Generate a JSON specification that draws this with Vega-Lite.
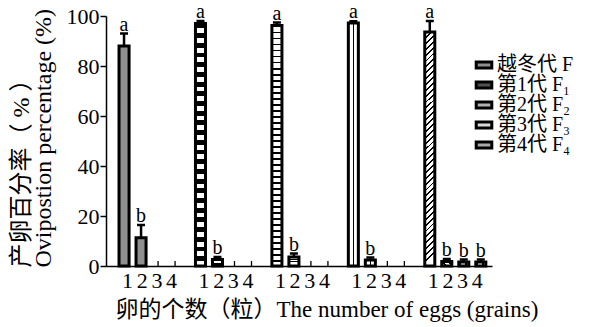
{
  "$schema": "https://vega.github.io/schema/vega-lite/v6.json",
  "width": 386,
  "height": 250,
  "autosize": {"type": "none"},
  "padding": {"left": 106, "top": 16, "right": 108, "bottom": 61},
  "background": "white",
  "config": {
    "font": "Liberation Serif, Noto Sans CJK SC",
    "view": {"stroke": null},
    "axis": {
      "grid": false,
      "domainColor": "black",
      "domainWidth": 1.5,
      "tickColor": "black",
      "tickWidth": 1.5,
      "labelColor": "black",
      "titleColor": "black",
      "labelFont": "Liberation Serif, Noto Sans CJK SC",
      "titleFont": "Liberation Serif, Noto Sans CJK SC",
      "titleFontWeight": "normal"
    }
  },
  "data": {
    "values": [
      {"gen": "越冬代 F", "eggs": 1, "pct": 88.0, "hi": 93.0, "letter": "a"},
      {"gen": "越冬代 F", "eggs": 2, "pct": 11.3, "hi": 16.4, "letter": "b"},
      {"gen": "越冬代 F", "eggs": 3, "pct": 0, "hi": 0, "letter": ""},
      {"gen": "越冬代 F", "eggs": 4, "pct": 0, "hi": 0, "letter": ""},
      {"gen": "第1代 F₁", "eggs": 1, "pct": 97.0, "hi": 98.0, "letter": "a"},
      {"gen": "第1代 F₁", "eggs": 2, "pct": 2.6, "hi": 3.6, "letter": "b"},
      {"gen": "第1代 F₁", "eggs": 3, "pct": 0, "hi": 0, "letter": ""},
      {"gen": "第1代 F₁", "eggs": 4, "pct": 0, "hi": 0, "letter": ""},
      {"gen": "第2代 F₂", "eggs": 1, "pct": 96.2, "hi": 97.4, "letter": "a"},
      {"gen": "第2代 F₂", "eggs": 2, "pct": 3.6, "hi": 5.0, "letter": "b"},
      {"gen": "第2代 F₂", "eggs": 3, "pct": 0, "hi": 0, "letter": ""},
      {"gen": "第2代 F₂", "eggs": 4, "pct": 0, "hi": 0, "letter": ""},
      {"gen": "第3代 F₃", "eggs": 1, "pct": 97.2, "hi": 97.9, "letter": "a"},
      {"gen": "第3代 F₃", "eggs": 2, "pct": 2.4, "hi": 3.4, "letter": "b"},
      {"gen": "第3代 F₃", "eggs": 3, "pct": 0, "hi": 0, "letter": ""},
      {"gen": "第3代 F₃", "eggs": 4, "pct": 0, "hi": 0, "letter": ""},
      {"gen": "第4代 F₄", "eggs": 1, "pct": 93.6, "hi": 98.0, "letter": "a"},
      {"gen": "第4代 F₄", "eggs": 2, "pct": 1.8, "hi": 2.8, "letter": "b"},
      {"gen": "第4代 F₄", "eggs": 3, "pct": 1.6, "hi": 2.6, "letter": "b"},
      {"gen": "第4代 F₄", "eggs": 4, "pct": 1.6, "hi": 2.6, "letter": "b"}
    ]
  },
  "encoding": {
    "x": {
      "field": "gen",
      "type": "nominal",
      "sort": ["越冬代 F", "第1代 F₁", "第2代 F₂", "第3代 F₃", "第4代 F₄"],
      "scale": {"paddingInner": 0.11, "paddingOuter": 0.08, "align": 0.78},
      "axis": {
        "title": "卵的个数（粒）The number of eggs (grains)",
        "titleFontSize": 23,
        "titleX": 9,
        "titleY": 50,
        "titleAlign": "left",
        "titleAnchor": "start",
        "titleBaseline": "alphabetic",
        "labelExpr": "'1\u20062\u20063\u20064'",
        "labelAngle": 0,
        "labelFontSize": 22,
        "labelPadding": 4,
        "ticks": false
      }
    },
    "xOffset": {
      "field": "eggs",
      "type": "ordinal",
      "scale": {"paddingInner": 0.41, "paddingOuter": 0.205}
    },
    "y": {
      "field": "pct",
      "type": "quantitative",
      "scale": {"domain": [0, 100]},
      "axis": {
        "title": ["产卵百分率（ % ）", "Ovipostion percentage (%)"],
        "values": [0, 20, 40, 60, 80, 100],
        "tickSize": 6,
        "labelFontSize": 22,
        "labelPadding": 1,
        "titleFontSize": 24,
        "titleAngle": -90,
        "titleX": -97,
        "titleY": 251,
        "titleAlign": "left",
        "titleAnchor": "start",
        "titleBaseline": "top",
        "titleLineHeight": 22
      }
    }
  },
  "layer": [
    {
      "mark": {"type": "rule", "color": "black", "strokeWidth": 1.3},
      "encoding": {
        "y": {"datum": 0, "type": "quantitative"},
        "y2": {"datum": 2}
      }
    },
    {
      "transform": [{"filter": "datum.pct > 0"}],
      "mark": {"type": "rule", "color": "black", "strokeWidth": 2.5},
      "encoding": {
        "y2": {"field": "hi"}
      }
    },
    {
      "transform": [{"filter": "datum.pct > 0"}],
      "mark": {"type": "tick", "color": "black", "thickness": 2.5, "size": 8, "orient": "horizontal", "opacity": 1},
      "encoding": {
        "y": {"field": "hi", "type": "quantitative"}
      }
    },
    {
      "transform": [{"filter": "datum.pct > 0"}],
      "mark": {"type": "bar", "stroke": "black", "strokeWidth": 3, "opacity": 1},
      "encoding": {
        "fill": {
          "field": "gen",
          "type": "nominal",
          "sort": ["越冬代 F", "第1代 F₁", "第2代 F₂", "第3代 F₃", "第4代 F₄"],
          "scale": {"range": ["#8f8f8f", "#505050", "#b0b0b0", "#d8d8d8", "#a8a8a8"]},
          "condition": [
            {
              "test": "datum.gen === '第1代 F₁'",
              "value": {"gradient": "linear", "x1": 0, "y1": 0, "x2": 0, "y2": 1, "stops": [
                {"offset": 0, "color": "black"}, {"offset": 0.02, "color": "black"}, {"offset": 0.02, "color": "white"}, {"offset": 0.04, "color": "white"},
                {"offset": 0.04, "color": "black"}, {"offset": 0.06, "color": "black"}, {"offset": 0.06, "color": "white"}, {"offset": 0.08, "color": "white"},
                {"offset": 0.08, "color": "black"}, {"offset": 0.10, "color": "black"}, {"offset": 0.10, "color": "white"}, {"offset": 0.12, "color": "white"},
                {"offset": 0.12, "color": "black"}, {"offset": 0.14, "color": "black"}, {"offset": 0.14, "color": "white"}, {"offset": 0.16, "color": "white"},
                {"offset": 0.16, "color": "black"}, {"offset": 0.18, "color": "black"}, {"offset": 0.18, "color": "white"}, {"offset": 0.20, "color": "white"},
                {"offset": 0.20, "color": "black"}, {"offset": 0.22, "color": "black"}, {"offset": 0.22, "color": "white"}, {"offset": 0.24, "color": "white"},
                {"offset": 0.24, "color": "black"}, {"offset": 0.26, "color": "black"}, {"offset": 0.26, "color": "white"}, {"offset": 0.28, "color": "white"},
                {"offset": 0.28, "color": "black"}, {"offset": 0.30, "color": "black"}, {"offset": 0.30, "color": "white"}, {"offset": 0.32, "color": "white"},
                {"offset": 0.32, "color": "black"}, {"offset": 0.34, "color": "black"}, {"offset": 0.34, "color": "white"}, {"offset": 0.36, "color": "white"},
                {"offset": 0.36, "color": "black"}, {"offset": 0.38, "color": "black"}, {"offset": 0.38, "color": "white"}, {"offset": 0.40, "color": "white"},
                {"offset": 0.40, "color": "black"}, {"offset": 0.42, "color": "black"}, {"offset": 0.42, "color": "white"}, {"offset": 0.44, "color": "white"},
                {"offset": 0.44, "color": "black"}, {"offset": 0.46, "color": "black"}, {"offset": 0.46, "color": "white"}, {"offset": 0.48, "color": "white"},
                {"offset": 0.48, "color": "black"}, {"offset": 0.50, "color": "black"}, {"offset": 0.50, "color": "white"}, {"offset": 0.52, "color": "white"},
                {"offset": 0.52, "color": "black"}, {"offset": 0.54, "color": "black"}, {"offset": 0.54, "color": "white"}, {"offset": 0.56, "color": "white"},
                {"offset": 0.56, "color": "black"}, {"offset": 0.58, "color": "black"}, {"offset": 0.58, "color": "white"}, {"offset": 0.60, "color": "white"},
                {"offset": 0.60, "color": "black"}, {"offset": 0.62, "color": "black"}, {"offset": 0.62, "color": "white"}, {"offset": 0.64, "color": "white"},
                {"offset": 0.64, "color": "black"}, {"offset": 0.66, "color": "black"}, {"offset": 0.66, "color": "white"}, {"offset": 0.68, "color": "white"},
                {"offset": 0.68, "color": "black"}, {"offset": 0.70, "color": "black"}, {"offset": 0.70, "color": "white"}, {"offset": 0.72, "color": "white"},
                {"offset": 0.72, "color": "black"}, {"offset": 0.74, "color": "black"}, {"offset": 0.74, "color": "white"}, {"offset": 0.76, "color": "white"},
                {"offset": 0.76, "color": "black"}, {"offset": 0.78, "color": "black"}, {"offset": 0.78, "color": "white"}, {"offset": 0.80, "color": "white"},
                {"offset": 0.80, "color": "black"}, {"offset": 0.82, "color": "black"}, {"offset": 0.82, "color": "white"}, {"offset": 0.84, "color": "white"},
                {"offset": 0.84, "color": "black"}, {"offset": 0.86, "color": "black"}, {"offset": 0.86, "color": "white"}, {"offset": 0.88, "color": "white"},
                {"offset": 0.88, "color": "black"}, {"offset": 0.90, "color": "black"}, {"offset": 0.90, "color": "white"}, {"offset": 0.92, "color": "white"},
                {"offset": 0.92, "color": "black"}, {"offset": 0.94, "color": "black"}, {"offset": 0.94, "color": "white"}, {"offset": 0.96, "color": "white"},
                {"offset": 0.96, "color": "black"}, {"offset": 0.98, "color": "black"}, {"offset": 0.98, "color": "white"}, {"offset": 1, "color": "white"}
              ]}
            },
            {
              "test": "datum.gen === '第2代 F₂'",
              "value": {"gradient": "linear", "x1": 0, "y1": 0, "x2": 0, "y2": 1, "stops": [
                {"offset": 0, "color": "black"}, {"offset": 0.008, "color": "black"}, {"offset": 0.008, "color": "white"}, {"offset": 0.025, "color": "white"},
                {"offset": 0.025, "color": "black"}, {"offset": 0.033, "color": "black"}, {"offset": 0.033, "color": "white"}, {"offset": 0.05, "color": "white"},
                {"offset": 0.05, "color": "black"}, {"offset": 0.058, "color": "black"}, {"offset": 0.058, "color": "white"}, {"offset": 0.075, "color": "white"},
                {"offset": 0.075, "color": "black"}, {"offset": 0.083, "color": "black"}, {"offset": 0.083, "color": "white"}, {"offset": 0.1, "color": "white"},
                {"offset": 0.1, "color": "black"}, {"offset": 0.108, "color": "black"}, {"offset": 0.108, "color": "white"}, {"offset": 0.125, "color": "white"},
                {"offset": 0.125, "color": "black"}, {"offset": 0.133, "color": "black"}, {"offset": 0.133, "color": "white"}, {"offset": 0.15, "color": "white"},
                {"offset": 0.15, "color": "black"}, {"offset": 0.158, "color": "black"}, {"offset": 0.158, "color": "white"}, {"offset": 0.175, "color": "white"},
                {"offset": 0.175, "color": "black"}, {"offset": 0.183, "color": "black"}, {"offset": 0.183, "color": "white"}, {"offset": 0.2, "color": "white"},
                {"offset": 0.2, "color": "black"}, {"offset": 0.208, "color": "black"}, {"offset": 0.208, "color": "white"}, {"offset": 0.225, "color": "white"},
                {"offset": 0.225, "color": "black"}, {"offset": 0.233, "color": "black"}, {"offset": 0.233, "color": "white"}, {"offset": 0.25, "color": "white"},
                {"offset": 0.25, "color": "black"}, {"offset": 0.258, "color": "black"}, {"offset": 0.258, "color": "white"}, {"offset": 0.275, "color": "white"},
                {"offset": 0.275, "color": "black"}, {"offset": 0.283, "color": "black"}, {"offset": 0.283, "color": "white"}, {"offset": 0.3, "color": "white"},
                {"offset": 0.3, "color": "black"}, {"offset": 0.308, "color": "black"}, {"offset": 0.308, "color": "white"}, {"offset": 0.325, "color": "white"},
                {"offset": 0.325, "color": "black"}, {"offset": 0.333, "color": "black"}, {"offset": 0.333, "color": "white"}, {"offset": 0.35, "color": "white"},
                {"offset": 0.35, "color": "black"}, {"offset": 0.358, "color": "black"}, {"offset": 0.358, "color": "white"}, {"offset": 0.375, "color": "white"},
                {"offset": 0.375, "color": "black"}, {"offset": 0.383, "color": "black"}, {"offset": 0.383, "color": "white"}, {"offset": 0.4, "color": "white"},
                {"offset": 0.4, "color": "black"}, {"offset": 0.408, "color": "black"}, {"offset": 0.408, "color": "white"}, {"offset": 0.425, "color": "white"},
                {"offset": 0.425, "color": "black"}, {"offset": 0.433, "color": "black"}, {"offset": 0.433, "color": "white"}, {"offset": 0.45, "color": "white"},
                {"offset": 0.45, "color": "black"}, {"offset": 0.458, "color": "black"}, {"offset": 0.458, "color": "white"}, {"offset": 0.475, "color": "white"},
                {"offset": 0.475, "color": "black"}, {"offset": 0.483, "color": "black"}, {"offset": 0.483, "color": "white"}, {"offset": 0.5, "color": "white"},
                {"offset": 0.5, "color": "black"}, {"offset": 0.508, "color": "black"}, {"offset": 0.508, "color": "white"}, {"offset": 0.525, "color": "white"},
                {"offset": 0.525, "color": "black"}, {"offset": 0.533, "color": "black"}, {"offset": 0.533, "color": "white"}, {"offset": 0.55, "color": "white"},
                {"offset": 0.55, "color": "black"}, {"offset": 0.558, "color": "black"}, {"offset": 0.558, "color": "white"}, {"offset": 0.575, "color": "white"},
                {"offset": 0.575, "color": "black"}, {"offset": 0.583, "color": "black"}, {"offset": 0.583, "color": "white"}, {"offset": 0.6, "color": "white"},
                {"offset": 0.6, "color": "black"}, {"offset": 0.608, "color": "black"}, {"offset": 0.608, "color": "white"}, {"offset": 0.625, "color": "white"},
                {"offset": 0.625, "color": "black"}, {"offset": 0.633, "color": "black"}, {"offset": 0.633, "color": "white"}, {"offset": 0.65, "color": "white"},
                {"offset": 0.65, "color": "black"}, {"offset": 0.658, "color": "black"}, {"offset": 0.658, "color": "white"}, {"offset": 0.675, "color": "white"},
                {"offset": 0.675, "color": "black"}, {"offset": 0.683, "color": "black"}, {"offset": 0.683, "color": "white"}, {"offset": 0.7, "color": "white"},
                {"offset": 0.7, "color": "black"}, {"offset": 0.708, "color": "black"}, {"offset": 0.708, "color": "white"}, {"offset": 0.725, "color": "white"},
                {"offset": 0.725, "color": "black"}, {"offset": 0.733, "color": "black"}, {"offset": 0.733, "color": "white"}, {"offset": 0.75, "color": "white"},
                {"offset": 0.75, "color": "black"}, {"offset": 0.758, "color": "black"}, {"offset": 0.758, "color": "white"}, {"offset": 0.775, "color": "white"},
                {"offset": 0.775, "color": "black"}, {"offset": 0.783, "color": "black"}, {"offset": 0.783, "color": "white"}, {"offset": 0.8, "color": "white"},
                {"offset": 0.8, "color": "black"}, {"offset": 0.808, "color": "black"}, {"offset": 0.808, "color": "white"}, {"offset": 0.825, "color": "white"},
                {"offset": 0.825, "color": "black"}, {"offset": 0.833, "color": "black"}, {"offset": 0.833, "color": "white"}, {"offset": 0.85, "color": "white"},
                {"offset": 0.85, "color": "black"}, {"offset": 0.858, "color": "black"}, {"offset": 0.858, "color": "white"}, {"offset": 0.875, "color": "white"},
                {"offset": 0.875, "color": "black"}, {"offset": 0.883, "color": "black"}, {"offset": 0.883, "color": "white"}, {"offset": 0.9, "color": "white"},
                {"offset": 0.9, "color": "black"}, {"offset": 0.908, "color": "black"}, {"offset": 0.908, "color": "white"}, {"offset": 0.925, "color": "white"},
                {"offset": 0.925, "color": "black"}, {"offset": 0.933, "color": "black"}, {"offset": 0.933, "color": "white"}, {"offset": 0.95, "color": "white"},
                {"offset": 0.95, "color": "black"}, {"offset": 0.958, "color": "black"}, {"offset": 0.958, "color": "white"}, {"offset": 0.975, "color": "white"},
                {"offset": 0.975, "color": "black"}, {"offset": 0.983, "color": "black"}, {"offset": 0.983, "color": "white"}, {"offset": 1, "color": "white"}
              ]}
            },
            {
              "test": "datum.gen === '第3代 F₃'",
              "value": {"gradient": "linear", "x1": 0, "y1": 0, "x2": 1, "y2": 0, "stops": [
                {"offset": 0, "color": "white"}, {"offset": 0.42, "color": "white"},
                {"offset": 0.42, "color": "black"}, {"offset": 0.58, "color": "black"},
                {"offset": 0.58, "color": "white"}, {"offset": 1, "color": "white"}
              ]}
            },
            {
              "test": "datum.gen === '第4代 F₄'",
              "value": {"gradient": "linear", "x1": 0, "y1": 0, "x2": 0.0426, "y2": 1, "stops": [
                {"offset": 0, "color": "black"}, {"offset": 0.008, "color": "black"}, {"offset": 0.008, "color": "white"}, {"offset": 0.025, "color": "white"},
                {"offset": 0.025, "color": "black"}, {"offset": 0.033, "color": "black"}, {"offset": 0.033, "color": "white"}, {"offset": 0.05, "color": "white"},
                {"offset": 0.05, "color": "black"}, {"offset": 0.058, "color": "black"}, {"offset": 0.058, "color": "white"}, {"offset": 0.075, "color": "white"},
                {"offset": 0.075, "color": "black"}, {"offset": 0.083, "color": "black"}, {"offset": 0.083, "color": "white"}, {"offset": 0.1, "color": "white"},
                {"offset": 0.1, "color": "black"}, {"offset": 0.108, "color": "black"}, {"offset": 0.108, "color": "white"}, {"offset": 0.125, "color": "white"},
                {"offset": 0.125, "color": "black"}, {"offset": 0.133, "color": "black"}, {"offset": 0.133, "color": "white"}, {"offset": 0.15, "color": "white"},
                {"offset": 0.15, "color": "black"}, {"offset": 0.158, "color": "black"}, {"offset": 0.158, "color": "white"}, {"offset": 0.175, "color": "white"},
                {"offset": 0.175, "color": "black"}, {"offset": 0.183, "color": "black"}, {"offset": 0.183, "color": "white"}, {"offset": 0.2, "color": "white"},
                {"offset": 0.2, "color": "black"}, {"offset": 0.208, "color": "black"}, {"offset": 0.208, "color": "white"}, {"offset": 0.225, "color": "white"},
                {"offset": 0.225, "color": "black"}, {"offset": 0.233, "color": "black"}, {"offset": 0.233, "color": "white"}, {"offset": 0.25, "color": "white"},
                {"offset": 0.25, "color": "black"}, {"offset": 0.258, "color": "black"}, {"offset": 0.258, "color": "white"}, {"offset": 0.275, "color": "white"},
                {"offset": 0.275, "color": "black"}, {"offset": 0.283, "color": "black"}, {"offset": 0.283, "color": "white"}, {"offset": 0.3, "color": "white"},
                {"offset": 0.3, "color": "black"}, {"offset": 0.308, "color": "black"}, {"offset": 0.308, "color": "white"}, {"offset": 0.325, "color": "white"},
                {"offset": 0.325, "color": "black"}, {"offset": 0.333, "color": "black"}, {"offset": 0.333, "color": "white"}, {"offset": 0.35, "color": "white"},
                {"offset": 0.35, "color": "black"}, {"offset": 0.358, "color": "black"}, {"offset": 0.358, "color": "white"}, {"offset": 0.375, "color": "white"},
                {"offset": 0.375, "color": "black"}, {"offset": 0.383, "color": "black"}, {"offset": 0.383, "color": "white"}, {"offset": 0.4, "color": "white"},
                {"offset": 0.4, "color": "black"}, {"offset": 0.408, "color": "black"}, {"offset": 0.408, "color": "white"}, {"offset": 0.425, "color": "white"},
                {"offset": 0.425, "color": "black"}, {"offset": 0.433, "color": "black"}, {"offset": 0.433, "color": "white"}, {"offset": 0.45, "color": "white"},
                {"offset": 0.45, "color": "black"}, {"offset": 0.458, "color": "black"}, {"offset": 0.458, "color": "white"}, {"offset": 0.475, "color": "white"},
                {"offset": 0.475, "color": "black"}, {"offset": 0.483, "color": "black"}, {"offset": 0.483, "color": "white"}, {"offset": 0.5, "color": "white"},
                {"offset": 0.5, "color": "black"}, {"offset": 0.508, "color": "black"}, {"offset": 0.508, "color": "white"}, {"offset": 0.525, "color": "white"},
                {"offset": 0.525, "color": "black"}, {"offset": 0.533, "color": "black"}, {"offset": 0.533, "color": "white"}, {"offset": 0.55, "color": "white"},
                {"offset": 0.55, "color": "black"}, {"offset": 0.558, "color": "black"}, {"offset": 0.558, "color": "white"}, {"offset": 0.575, "color": "white"},
                {"offset": 0.575, "color": "black"}, {"offset": 0.583, "color": "black"}, {"offset": 0.583, "color": "white"}, {"offset": 0.6, "color": "white"},
                {"offset": 0.6, "color": "black"}, {"offset": 0.608, "color": "black"}, {"offset": 0.608, "color": "white"}, {"offset": 0.625, "color": "white"},
                {"offset": 0.625, "color": "black"}, {"offset": 0.633, "color": "black"}, {"offset": 0.633, "color": "white"}, {"offset": 0.65, "color": "white"},
                {"offset": 0.65, "color": "black"}, {"offset": 0.658, "color": "black"}, {"offset": 0.658, "color": "white"}, {"offset": 0.675, "color": "white"},
                {"offset": 0.675, "color": "black"}, {"offset": 0.683, "color": "black"}, {"offset": 0.683, "color": "white"}, {"offset": 0.7, "color": "white"},
                {"offset": 0.7, "color": "black"}, {"offset": 0.708, "color": "black"}, {"offset": 0.708, "color": "white"}, {"offset": 0.725, "color": "white"},
                {"offset": 0.725, "color": "black"}, {"offset": 0.733, "color": "black"}, {"offset": 0.733, "color": "white"}, {"offset": 0.75, "color": "white"},
                {"offset": 0.75, "color": "black"}, {"offset": 0.758, "color": "black"}, {"offset": 0.758, "color": "white"}, {"offset": 0.775, "color": "white"},
                {"offset": 0.775, "color": "black"}, {"offset": 0.783, "color": "black"}, {"offset": 0.783, "color": "white"}, {"offset": 0.8, "color": "white"},
                {"offset": 0.8, "color": "black"}, {"offset": 0.808, "color": "black"}, {"offset": 0.808, "color": "white"}, {"offset": 0.825, "color": "white"},
                {"offset": 0.825, "color": "black"}, {"offset": 0.833, "color": "black"}, {"offset": 0.833, "color": "white"}, {"offset": 0.85, "color": "white"},
                {"offset": 0.85, "color": "black"}, {"offset": 0.858, "color": "black"}, {"offset": 0.858, "color": "white"}, {"offset": 0.875, "color": "white"},
                {"offset": 0.875, "color": "black"}, {"offset": 0.883, "color": "black"}, {"offset": 0.883, "color": "white"}, {"offset": 0.9, "color": "white"},
                {"offset": 0.9, "color": "black"}, {"offset": 0.908, "color": "black"}, {"offset": 0.908, "color": "white"}, {"offset": 0.925, "color": "white"},
                {"offset": 0.925, "color": "black"}, {"offset": 0.933, "color": "black"}, {"offset": 0.933, "color": "white"}, {"offset": 0.95, "color": "white"},
                {"offset": 0.95, "color": "black"}, {"offset": 0.958, "color": "black"}, {"offset": 0.958, "color": "white"}, {"offset": 0.975, "color": "white"},
                {"offset": 0.975, "color": "black"}, {"offset": 0.983, "color": "black"}, {"offset": 0.983, "color": "white"}, {"offset": 1, "color": "white"}
              ]}
            }
          ],
          "legend": {
            "orient": "none",
            "legendX": 368,
            "legendY": 39,
            "title": null,
            "symbolType": "M-1.3,-0.5H1.3V0.5H-1.3Z",
            "symbolSize": 144,
            "symbolStrokeColor": "black",
            "symbolStrokeWidth": 3,
            "symbolOpacity": 1,
            "labelFont": "Liberation Serif, Noto Sans CJK SC",
            "labelFontSize": 20,
            "labelColor": "black",
            "labelOffset": 3,
            "labelLimit": 300,
            "rowPadding": -1.75
          }
        }
      }
    },
    {
      "transform": [{"filter": "datum.letter != ''"}],
      "mark": {"type": "text", "baseline": "alphabetic", "dy": -3, "fontSize": 20, "color": "black"},
      "encoding": {
        "y": {"field": "hi", "type": "quantitative"},
        "text": {"field": "letter"}
      }
    }
  ]
}
